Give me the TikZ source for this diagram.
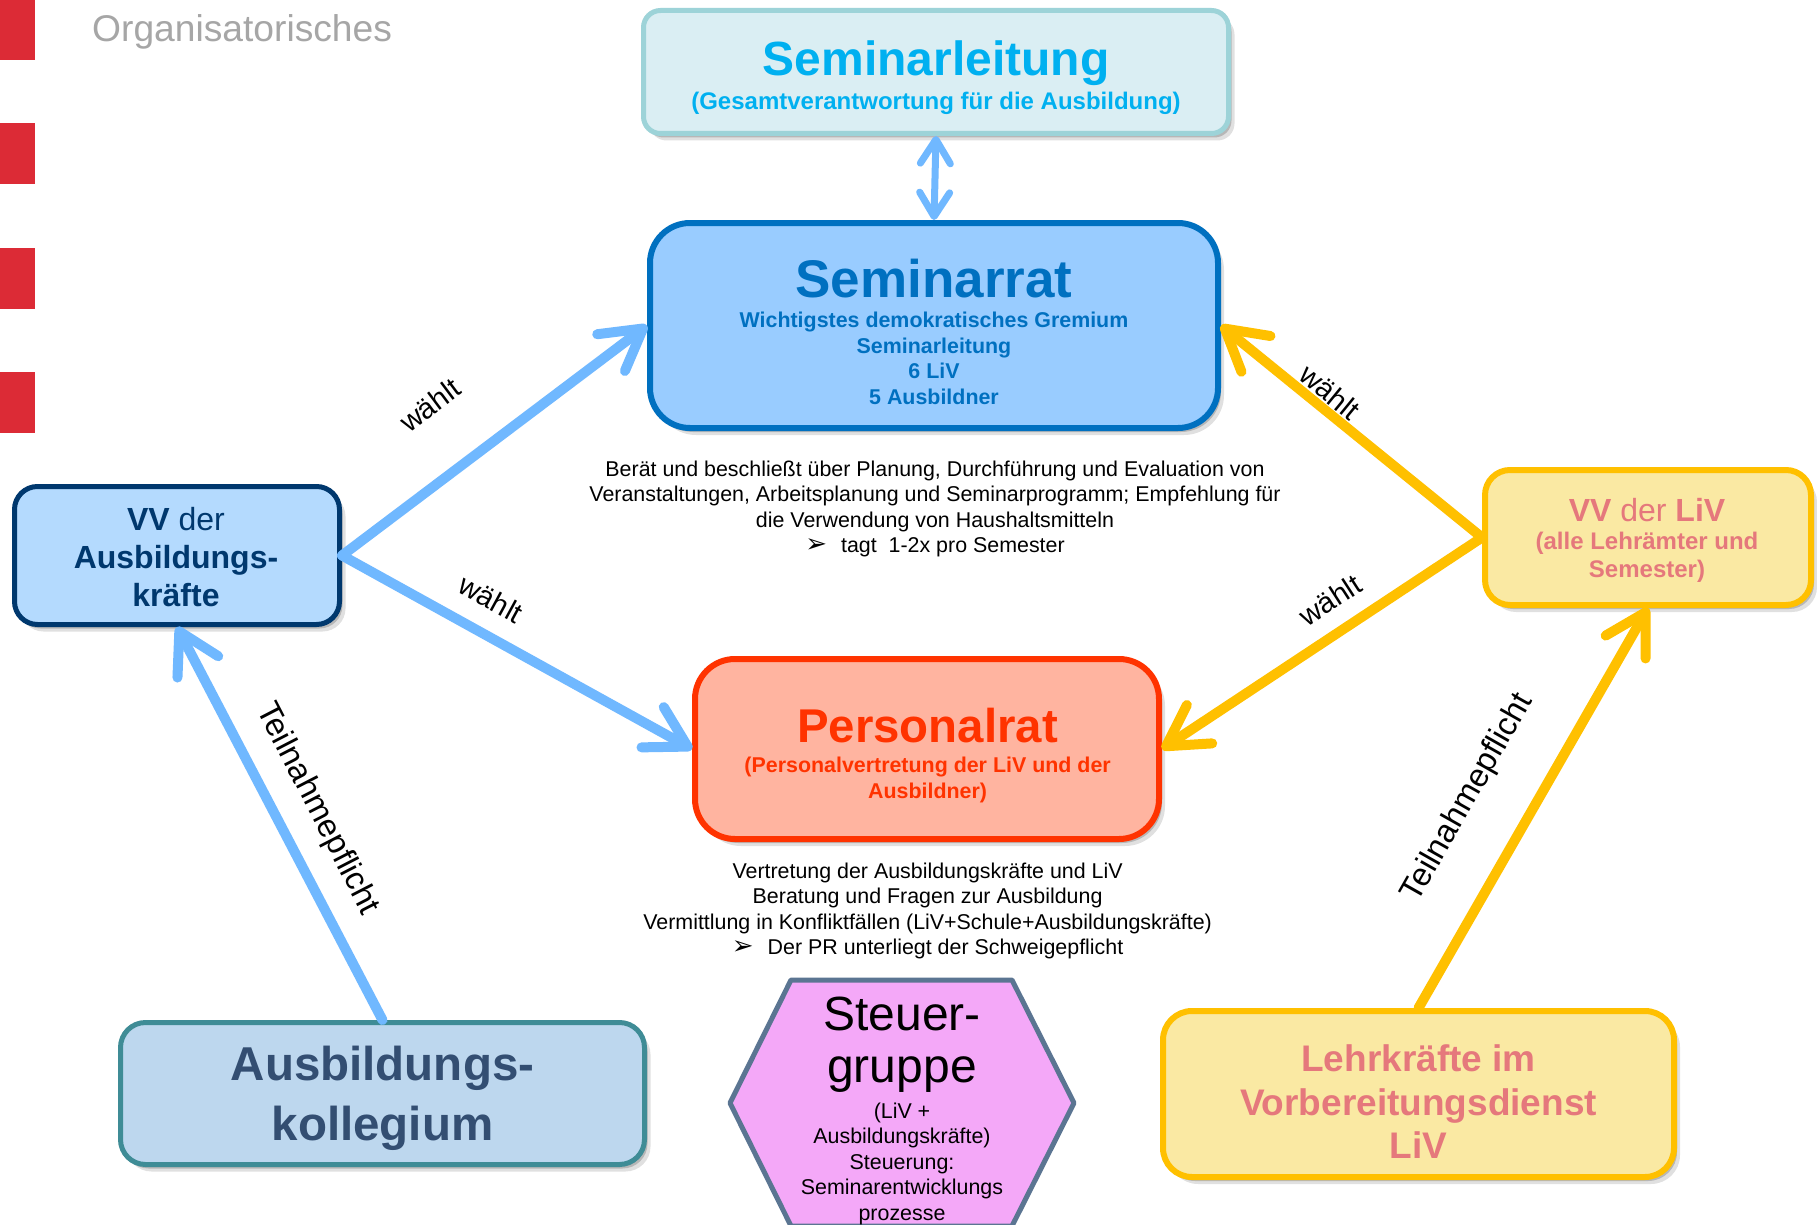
\documentclass[tikz,border=0pt]{standalone}
\usepackage{fontspec}
\setmainfont{Liberation Sans}
\newfontfamily\dejavu{DejaVu Sans}
\usetikzlibrary{arrows.meta,shadows}
\newcommand\fsz[2]{\fontsize{#1}{#2}\selectfont}
\newcommand\pfeil{{\dejavu\fsz{26}{25}➢}\hspace{14pt}}
\definecolor{redsq}{HTML}{DC2B36}
\definecolor{orggray}{HTML}{A6A6A6}
\definecolor{slfill}{HTML}{DAEEF3}
\definecolor{slbd}{HTML}{9DD3D8}
\definecolor{sltext}{HTML}{00B0F0}
\definecolor{srfill}{HTML}{99CCFF}
\definecolor{srbd}{HTML}{0070C0}
\definecolor{prfill}{HTML}{FFB4A0}
\definecolor{prbd}{HTML}{FF3300}
\definecolor{akfill}{HTML}{B4DAFE}
\definecolor{akbd}{HTML}{00386E}
\definecolor{kofill}{HTML}{BDD7EE}
\definecolor{kobd}{HTML}{3F8C96}
\definecolor{kotext}{HTML}{334E72}
\definecolor{yfill}{HTML}{FAE9A3}
\definecolor{ybd}{HTML}{FFC000}
\definecolor{ytext}{HTML}{E5787C}
\definecolor{hexfill}{HTML}{F4A8F8}
\definecolor{hexbd}{HTML}{5B7592}
\definecolor{arrblue}{HTML}{70B8FF}
\definecolor{arryel}{HTML}{FFC000}
\begin{document}
\begin{tikzpicture}[x=1pt,y=-1pt,
  boxshadow/.style={drop shadow={shadow xshift=3pt,shadow yshift=-4pt,opacity=0.18,fill=black},
                    drop shadow={shadow xshift=6pt,shadow yshift=-7pt,opacity=0.12,fill=black}},
  box/.style={rectangle,inner sep=0pt,boxshadow},
  tnode/.style={inner sep=0pt},
  txt/.style={inner sep=0pt,text=black,font=\fsz{21.4}{25.6},align=center},
  lbl/.style={inner sep=0pt,text=black,font=\fsz{29}{32}},
  tlbl/.style={inner sep=0pt,text=black,font=\fsz{32.5}{36}},
  arr/.style={line width=10pt,line cap=round,-{Straight Barb[length=40pt,width=46pt,round]}},
  bluearr/.style={arr,draw=arrblue},
  yelarr/.style={arr,draw=arryel},
  dblarr/.style={line width=7pt,draw=arrblue,line cap=round,
    {Straight Barb[length=24pt,width=30pt,round]}-{Straight Barb[length=24pt,width=30pt,round]}}
]
\useasboundingbox (0,0) rectangle (1817,1225);
\fill[white] (0,0) rectangle (1817,1225);

% red squares
\fill[redsq] (0,0) rectangle (35,60);
\fill[redsq] (0,123) rectangle (35,184);
\fill[redsq] (0,248) rectangle (35,309);
\fill[redsq] (0,372) rectangle (35,433);
\node[tnode,anchor=base west,text=orggray,font=\fsz{37.2}{40}] (org) at (92,42) {Organisatorisches};

% boxes
\node[box,draw=slbd,fill=slfill,line width=5pt,rounded corners=17pt,minimum width=585pt,minimum height=123pt] (sl) at (936,72) {};
\node[box,draw=srbd,fill=srfill,line width=6pt,rounded corners=40pt,minimum width=568pt,minimum height=205pt] (srat) at (934,325.5) {};
\node[box,draw=prbd,fill=prfill,line width=6pt,rounded corners=40pt,minimum width=464pt,minimum height=180pt] (prat) at (927,749) {};
\node[box,draw=akbd,fill=akfill,line width=5pt,rounded corners=23pt,minimum width=325pt,minimum height=138pt] (vvak) at (177,555.5) {};
\node[box,draw=kobd,fill=kofill,line width=5pt,rounded corners=25pt,minimum width=524pt,minimum height=142pt] (koll) at (382.5,1093.5) {};
\node[box,draw=ybd,fill=yfill,line width=6pt,rounded corners=25pt,minimum width=326pt,minimum height=135pt] (vvliv) at (1648,537.5) {};
\node[box,draw=ybd,fill=yfill,line width=6pt,rounded corners=29pt,minimum width=511pt,minimum height=166pt] (lehr) at (1418.5,1094) {};

% hexagon
\coordinate (hl) at (730,1103);
\coordinate (htl) at (791,980);
\coordinate (htr) at (1012,980);
\coordinate (hr) at (1074,1103);
\coordinate (hbr) at (1012,1226);
\coordinate (hbl) at (791,1226);
\draw[draw=hexbd,fill=hexfill,line width=5pt,line join=round] (hl) -- (htl) -- (htr) -- (hr) -- (hbr) -- (hbl) -- cycle;

% texts
\node[tnode,anchor=base,text=sltext,font=\bfseries\fsz{48}{52}] (sltitle) at (936,76) {Seminarleitung};
\node[tnode,anchor=base,text=sltext,font=\bfseries\fsz{24}{28}] (slsub) at (936,110) {(Gesamtverantwortung für die Ausbildung)};

\node[tnode,anchor=base,text=srbd,font=\bfseries\fsz{53}{58}] (srtitle) at (934,297) {Seminarrat};
\node[tnode,align=center,text=srbd,font=\bfseries\fsz{21.4}{25.4}] (srsub) at (934,358.3) {Wichtigstes demokratisches Gremium\\Seminarleitung\\6 LiV\\5 Ausbildner};

\node[txt] (berat) at (935,509) {Berät und beschließt über Planung, Durchführung und Evaluation von\\Veranstaltungen, Arbeitsplanung und Seminarprogramm; Empfehlung für\\die Verwendung von Haushaltsmitteln\\\pfeil tagt\ \ 1-2x pro Semester};

\node[tnode,anchor=base,text=prbd,font=\bfseries\fsz{47.4}{52}] (prtitle) at (927.6,742) {Personalrat};
\node[tnode,align=center,text=prbd,font=\bfseries\fsz{21.4}{26}] (prsub) at (927.6,779.5) {(Personalvertretung der LiV und der\\Ausbildner)};

\node[txt] (vertr) at (927.6,911) {Vertretung der Ausbildungskräfte und LiV\\Beratung und Fragen zur Ausbildung\\Vermittlung in Konfliktfällen (LiV+Schule+Ausbildungskräfte)\\\pfeil Der PR unterliegt der Schweigepflicht};

\node[tnode,align=center,text=akbd,font=\fsz{32}{38}] (vvaktext) at (176,557) {{\bfseries VV} der\\{\bfseries Ausbildungs-}\\{\bfseries kräfte}};

\node[tnode,align=center,text=kotext,font=\bfseries\fsz{47.5}{60}] (kolltext) at (382.5,1098.7) {Ausbildungs-\\kollegium};

\node[tnode,anchor=base,text=ytext,font=\fsz{32}{36}] (vvlivtitle) at (1647,521) {{\bfseries VV} der {\bfseries LiV}};
\node[tnode,align=center,text=ytext,font=\bfseries\fsz{24}{28}] (vvlivsub) at (1647,557.5) {(alle Lehrämter und\\Semester)};

\node[tnode,align=center,text=ytext,font=\bfseries\fsz{37}{43.5}] (lehrtext) at (1418.5,1102) {Lehrkräfte im\\Vorbereitungsdienst\\LiV};

\node[tnode,align=center,text=black,font=\fsz{48}{52}] (sgbig) at (902,1044.5) {Steuer-\\gruppe};
\node[tnode,align=center,text=black,font=\fsz{21.4}{25.5}] (sgsmall) at (902,1163.5) {(LiV +\\Ausbildungskräfte)\\Steuerung:\\Seminarentwicklungs\\prozesse};

% connectors
\draw[dblarr] (sl.south) -- (srat.north);
\draw[bluearr] (vvak.east) -- (srat.west);
\draw[bluearr] (vvak.east) -- (prat.west);
\draw[yelarr] (vvliv.west) -- (srat.east);
\draw[yelarr] (vvliv.west) -- (prat.east);
\draw[bluearr] (koll.north) -- (vvak.south);
\draw[yelarr] (lehr.north) -- (vvliv.south);

% labels
\node[lbl,rotate=36.7] (w1) at (430,405) {wählt};
\node[lbl,rotate=-28.6] (w2) at (491,599) {wählt};
\node[lbl,rotate=-39.3] (w3) at (1330,392) {wählt};
\node[lbl,rotate=32.9] (w4) at (1330,600) {wählt};
\node[tlbl,rotate=-62.7] (t1) at (317,809) {Teilnahmepflicht};
\node[tlbl,rotate=60.5] (t2) at (1468,798) {Teilnahmepflicht};
\end{tikzpicture}
\end{document}
